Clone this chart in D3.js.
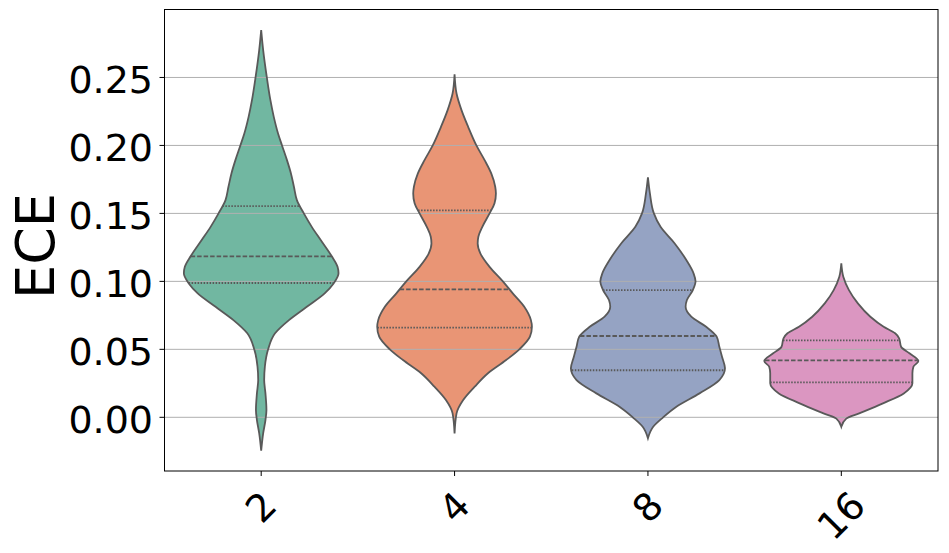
<!DOCTYPE html>
<html><head><meta charset="utf-8">
<script src="https://cdn.jsdelivr.net/npm/d3@7"></script>
<style>body{margin:0;background:#fff}svg{display:block}text{font-family:"DejaVu Sans",sans-serif}</style>
</head><body><svg id="c" width="949" height="553"></svg>
<script>
const categories = ["2","4","8","16"];
const colors = ["#71b7a1","#e99575","#95a3c3","#db96c1"];
const yTicks = [0.00,0.05,0.10,0.15,0.20,0.25];
// density profiles: [value, relative density]
const profile2 = [[-0.0246,0],[-0.0118,2],[-0.002,4.3],[0.0054,5.3],[0.0176,4.3],[0.0274,3],[0.0372,3.7],[0.05,7],[0.0618,14],[0.0715,28],[0.0813,46],[0.0912,64],[0.0985,73],[0.1059,78],[0.1107,77],[0.1186,71],[0.1304,60],[0.1401,51],[0.15,43],[0.1598,36],[0.1696,33],[0.1794,30],[0.1892,26],[0.20,21],[0.2088,17],[0.2210,12.7],[0.2333,9.3],[0.25,5.7],[0.2701,2],[0.2848,0]];
const profile4 = [[-0.0118,0],[0.0029,2],[0.0127,8.7],[0.0225,20.3],[0.0324,33.7],[0.0421,52],[0.05,65.3],[0.0593,76],[0.0666,78],[0.0715,77],[0.0813,70.3],[0.0912,58.7],[0.10,48.7],[0.1107,35.3],[0.1206,26],[0.1279,23.3],[0.1328,24],[0.1401,28],[0.15,35.3],[0.1574,40.3],[0.1647,41.7],[0.1696,41],[0.1794,37],[0.1892,30.3],[0.20,22],[0.2137,13.7],[0.2260,7],[0.2382,2],[0.2524,0]];
const profile8 = [[-0.0154,0],[-0.0069,5.3],[0.0,15.3],[0.0078,28.7],[0.0176,52],[0.0274,72],[0.0360,77.7],[0.0446,74.7],[0.0519,72],[0.0593,69.3],[0.0666,58.7],[0.0740,43.7],[0.0813,38],[0.0863,39.3],[0.0936,45.3],[0.10,48],[0.1059,46],[0.1157,38.7],[0.1279,27],[0.1401,12.7],[0.15,6],[0.1647,2],[0.1765,0]];
const profile16 = [[-0.0069,0],[-0.0010,5],[0.0029,18],[0.0103,42],[0.0176,63],[0.0250,71.7],[0.0324,71.7],[0.0372,72.7],[0.0414,77.7],[0.0471,68.7],[0.0519,60.3],[0.0581,58.3],[0.0618,54.3],[0.0666,42.7],[0.0740,29.3],[0.0838,16.7],[0.0936,7.7],[0.1034,2],[0.1132,0]];
const profiles = [profile2, profile4, profile8, profile16];
const q1 = [0.0988, 0.0659, 0.0346, 0.0257];
const median = [0.1184, 0.0941, 0.0598, 0.0419];
const q3 = [0.1554, 0.1522, 0.0936, 0.0566];

const L=164.5, R=938, T=9.5, B=471;
const svg = d3.select("#c");
const x = d3.scalePoint().domain(categories).range([L,R]).padding(0.5);
const y = d3.scaleLinear().domain([-0.0395,0.3]).range([B,T]);
const step = x.step();
const w = d3.scaleLinear().domain([0,78]).range([0,0.4*step]);
const edge = "#595959";

categories.forEach((c,i)=>{
  const cx = x(c), prof = profiles[i];
  const area = d3.area().curve(d3.curveMonotoneY)
    .y(d=>y(d[0])).x0(d=>cx-w(d[1])).x1(d=>cx+w(d[1]));
  svg.append("path").attr("d",area(prof)).attr("fill",colors[i]).attr("stroke","none");
});
const g = svg.append("g");
yTicks.forEach(t=>{
  g.append("line").attr("x1",L).attr("x2",R).attr("y1",y(t)).attr("y2",y(t))
   .attr("stroke","#b0b0b0").attr("stroke-width",1);
});
const interp = (prof,v)=>{
  for(let k=0;k<prof.length-1;k++){
    const a=prof[k], b=prof[k+1];
    if(v>=a[0] && v<=b[0]) return a[1]+(b[1]-a[1])*(v-a[0])/(b[0]-a[0]);
  }
  return 0;
};
categories.forEach((c,i)=>{
  const cx = x(c), prof = profiles[i];
  const area = d3.area().curve(d3.curveMonotoneY)
    .y(d=>y(d[0])).x0(d=>cx-w(d[1])).x1(d=>cx+w(d[1]));
  svg.append("path").attr("d",area(prof)).attr("fill","none").attr("stroke",edge).attr("stroke-width",1.8);
  [[q1[i],"1.5,1.5"],[median[i],"4.5,2"],[q3[i],"1.5,1.5"]].forEach(([v,da])=>{
    const hw = w(interp(prof,v));
    svg.append("line").attr("x1",cx-hw).attr("x2",cx+hw).attr("y1",y(v)).attr("y2",y(v))
      .attr("stroke",edge).attr("stroke-width",1.8).attr("stroke-dasharray",da);
  });
});
svg.append("rect").attr("x",L).attr("y",T).attr("width",R-L).attr("height",B-T)
  .attr("fill","none").attr("stroke","#000").attr("stroke-width",1);
yTicks.forEach(t=>{
  svg.append("line").attr("x1",L-5).attr("x2",L).attr("y1",y(t)).attr("y2",y(t)).attr("stroke","#000");
  svg.append("text").attr("x",153).attr("y",y(t)+15.3).attr("text-anchor","end")
    .attr("font-size",38).attr("fill","#000").text(t.toFixed(2));
});
categories.forEach(c=>{
  svg.append("line").attr("x1",x(c)).attr("x2",x(c)).attr("y1",B).attr("y2",B+5).attr("stroke","#000");
  const t = svg.append("text").attr("font-size",38).attr("text-anchor","middle")
    .attr("dominant-baseline","central").text(c);
  const tw = t.node().getComputedTextLength(), th = 38*1.164;
  const H = (tw+th)*Math.SQRT1_2;
  const top = B+5+7;
  t.attr("transform",`translate(${x(c)},${top+H/2}) rotate(-45)`);
});
svg.append("text").attr("transform","translate(35,246) rotate(-90)")
  .attr("text-anchor","middle").attr("dominant-baseline","central")
  .attr("font-size",54).attr("fill","#000").text("ECE");
</script></body></html>
